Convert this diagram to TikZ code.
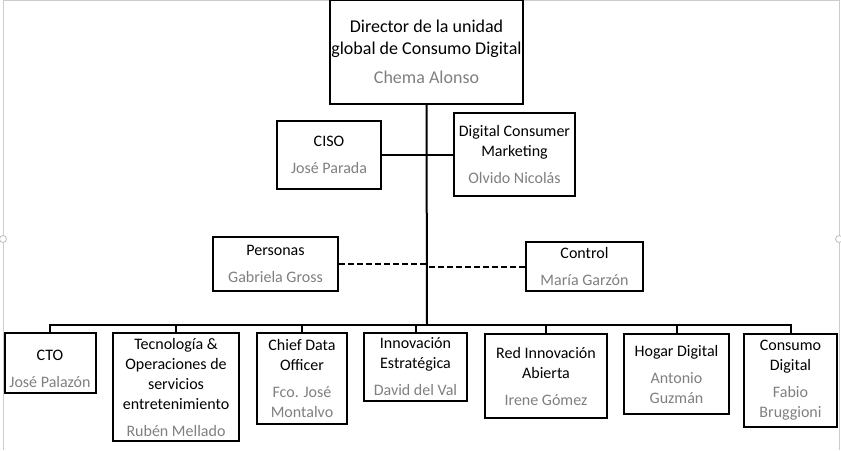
\documentclass[tikz,border=0pt]{standalone}
\usepackage{fontspec}
\setmainfont{Carlito}
\definecolor{namegrey}{HTML}{7F7F7F}
\newcommand{\who}[1]{\\[7pt]\color{namegrey}#1}
\newcommand{\whotwo}[2]{\\[7pt]\color{namegrey}#1\\\color{namegrey}#2}

\begin{document}
\begin{tikzpicture}[x=1pt,y=1pt]
\tikzstyle{every node}+=[inner sep=0pt]
\tikzstyle{box}=[draw=black, line width=2pt, align=center, font=\fontsize{16}{20}\selectfont]
\tikzstyle{link}=[black, line width=2pt]
\tikzstyle{dotted link}=[black, line width=2pt, dash pattern=on 6pt off 3pt]
\useasboundingbox (0,0) rectangle (841,-450);
% selection frame
\draw [gray!40, line width=1pt] (3,-450) -- (3,-0.5) -- (839,-0.5) -- (839,-450);
\draw [gray!50, fill=white, line width=0.8pt] (3,-239) circle (3.5);
\draw [gray!50, fill=white, line width=0.8pt] (839,-239) circle (3.5);
% boxes
\node (top) at (426.5,-52) [box, minimum width=193, minimum height=104, font=\fontsize{18}{22}\selectfont]
  {Director de la unidad\\global de Consumo Digital\who{Chema Alonso}};
\node (ciso) at (329,-155) [box, minimum width=104, minimum height=68] {CISO\who{José Parada}};
\node (dcm) at (514.5,-154.5) [box, minimum width=121, minimum height=83]
  {Digital Consumer\\Marketing\who{Olvido Nicolás}};
\node (personas) at (275.5,-264) [box, minimum width=125, minimum height=54] {Personas\who{Gabriela Gross}};
\node (control) at (584.5,-266.5) [box, minimum width=117, minimum height=49] {Control\who{María Garzón}};
\node (cto) at (50,-363) [box, minimum width=91, minimum height=60] {\rule{0pt}{23pt}CTO\who{José Palazón}};
\node (tec) at (176,-387) [box, minimum width=126, minimum height=108]
  {Tecnología \&\\Operaciones de\\servicios\\entretenimiento\who{Rubén Mellado}};
\node (cdo) at (302,-378.5) [box, minimum width=90, minimum height=91]
  {Chief Data\\Officer\whotwo{Fco. José}{Montalvo}};
\node (innov) at (415.5,-367) [box, minimum width=103, minimum height=68]
  {Innovación\\Estratégica\who{David del Val}};
\node (red) at (546,-376) [box, minimum width=122, minimum height=84]
  {Red Innovación\\Abierta\who{Irene Gómez}};
\node (hogar) at (676.5,-374) [box, minimum width=105, minimum height=80]
  {Hogar Digital\whotwo{Antonio}{Guzmán}};
\node (consumo) at (790.5,-380.5) [box, minimum width=93, minimum height=93]
  {Consumo\\Digital\whotwo{Fabio}{Bruggioni}};
% connectors
\coordinate (bar) at (427,-325);
\draw [link] (top.south) -- (bar);
\draw [link] (cto.north) |- (bar) -| (consumo.north);
\foreach \n in {tec,cdo,innov,red,hogar}
  \draw [link] (\n.north) -- (\n.north |- bar);
\draw [link] (ciso.east) -- (ciso.east -| dcm.west);
\draw [dotted link] (personas.east) -- (personas.east -| top.south);
\draw [dotted link] (control.west) -- (control.west -| top.south);
\end{tikzpicture}
\end{document}
